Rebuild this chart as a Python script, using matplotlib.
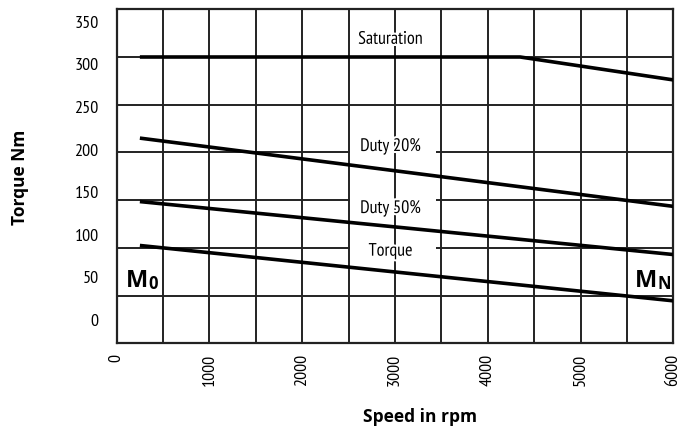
import matplotlib
matplotlib.use("Agg")
import matplotlib.pyplot as plt
import matplotlib.patheffects as pe
from matplotlib.patches import Rectangle
from matplotlib import font_manager

# Curve data: speed (rpm) vs torque (Nm)
saturation_rpm = [250, 4350, 6000]
saturation_nm = [300, 300, 276]
duty20_rpm = [250, 6000]
duty20_nm = [215, 143.5]
duty50_rpm = [250, 6000]
duty50_nm = [148.5, 93]
torque_rpm = [250, 6000]
torque_nm = [102.5, 44.5]

curve_names = ["Saturation", "Duty 20%", "Duty 50%", "Torque"]
curve_label_nm = [318, 206, 141, 96]

x_ticks = [0, 1000, 2000, 3000, 4000, 5000, 6000]
y_tick_values = [0, 50, 100, 150, 200, 250, 300, 350]

available = {f.name for f in font_manager.fontManager.ttflist}


def pick(candidates):
    for c in candidates:
        if c in available:
            return c
    return "DejaVu Sans"


narrow = pick(["PT Sans Narrow", "Roboto Condensed", "Fira Sans Condensed",
               "Open Sans Condensed", "Archivo Narrow", "Liberation Sans Narrow",
               "Encode Sans Condensed"])
bold_face = "Open Sans"

fig = plt.figure(figsize=(6.8, 4.27), dpi=100)
ax = fig.add_axes([0.1716, 0.1937, 0.8185, 0.7822])
ax.set_xlim(0, 6000)
ax.set_ylim(0, 350)

# grid: horizontal lines under the label patches, vertical lines above
for y in range(50, 350, 50):
    ax.axhline(y, color="#222222", lw=1.4, zorder=1)
for x in range(500, 6000, 500):
    ax.axvline(x, color="#222222", lw=1.4, zorder=3)

for name, yl in zip(curve_names, curve_label_nm):
    if name != "Saturation":
        ax.add_patch(Rectangle((2520, yl - 11), 920, 22, facecolor="white",
                               edgecolor="none", zorder=2))

for xs, ys in [(saturation_rpm, saturation_nm), (duty20_rpm, duty20_nm),
               (duty50_rpm, duty50_nm), (torque_rpm, torque_nm)]:
    ax.plot(xs, ys, color="black", lw=2.6, solid_capstyle="butt", zorder=4)

halo = [pe.withStroke(linewidth=3, foreground="white")]
for name, yl in zip(curve_names, curve_label_nm):
    ax.text(2950, yl, name, ha="center", va="center", fontsize=13,
            family=narrow, zorder=5, path_effects=halo)

# motor torque markers: large M with a smaller index letter
for xf, idx in [(0.0167, "0"), (0.931, "N")]:
    m = ax.text(xf, 0.172, "M", transform=ax.transAxes, fontsize=17,
                fontweight="bold", family=bold_face, ha="left", va="baseline",
                zorder=5)
    ax.annotate(idx, xy=(1.0, 0.0), xycoords=m, fontsize=12, fontweight="bold",
                family=bold_face, ha="left", va="bottom", zorder=5)

for s in ax.spines.values():
    s.set_color("#222222")
    s.set_linewidth(1.6)

ax.set_xticks(x_ticks)
ax.set_xticklabels([str(v) for v in x_ticks], rotation=90, family=narrow, fontsize=13)
y_tick_pos = [25.4 + v * 0.893 for v in y_tick_values]
ax.set_yticks(y_tick_pos)
ax.set_yticklabels([str(v) for v in y_tick_values], family=narrow, fontsize=13)
ax.tick_params(axis="x", length=0, pad=7)
ax.tick_params(axis="y", length=0, pad=13)

fig.text(0.618, 0.0124, "Speed in rpm", ha="center", va="baseline",
         fontsize=12.5, fontweight="bold", family=bold_face)
fig.text(0.030, 0.585, "Torque Nm", ha="center", va="center", rotation=90,
         fontsize=12.5, fontweight="bold", family=bold_face)

fig.savefig("out.png", dpi=100)
